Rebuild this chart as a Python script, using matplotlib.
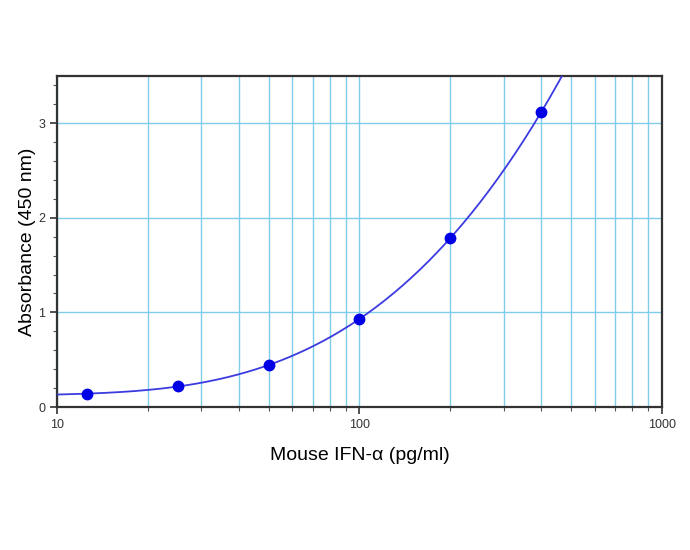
import numpy as np
import matplotlib.pyplot as plt
from matplotlib.ticker import LogLocator, MultipleLocator, NullFormatter

plt.rcParams['font.family'] = ['Liberation Sans', 'DejaVu Sans']

# standard curve data
conc = [12.5, 25, 50, 100, 200, 400]
absorb = [0.14, 0.22, 0.44, 0.93, 1.79, 3.12]

# smooth fit through the standards (cubic in log10 conc)
coef = np.polyfit(np.log10(conc), absorb, 3)
xs = np.logspace(1, np.log10(520), 300)
ys = np.polyval(coef, np.log10(xs))

fig = plt.figure(figsize=(6.9, 5.5), dpi=100)
ax = fig.add_axes([0.083, 0.26, 0.876, 0.602])

ax.plot(xs, ys, color='#3b3be0', lw=1.3, zorder=3)
ax.plot(conc, absorb, 'o', color='#0000e6', ms=7.5, zorder=4)

ax.set_xscale('log')
ax.set_xlim(10, 1000)
ax.set_ylim(0, 3.5)

ax.xaxis.set_minor_locator(LogLocator(base=10, subs=np.arange(2, 10)))
ax.xaxis.set_minor_formatter(NullFormatter())
ax.set_xticks([10, 100, 1000])
ax.set_xticklabels(['10', '100', '1000'])
ax.set_yticks([0, 1, 2, 3])
ax.yaxis.set_minor_locator(MultipleLocator(0.2))

ax.grid(True, which='both', axis='x', color='#80cdeb', lw=1.0)
ax.grid(True, which='major', axis='y', color='#80cdeb', lw=1.0)
ax.set_axisbelow(True)

for s in ax.spines.values():
    s.set_linewidth(1.6)
    s.set_color('#333333')

ax.tick_params(which='major', direction='out', length=5, width=1.2, labelsize=9, colors='#333333')
ax.tick_params(which='minor', direction='out', length=3, width=0.8, colors='#555555')

ax.set_xlabel('Mouse IFN-α (pg/ml)', fontsize=14, labelpad=12)
ax.set_ylabel('Absorbance (450 nm)', fontsize=14, labelpad=2)

fig.savefig('out.png', dpi=100)
